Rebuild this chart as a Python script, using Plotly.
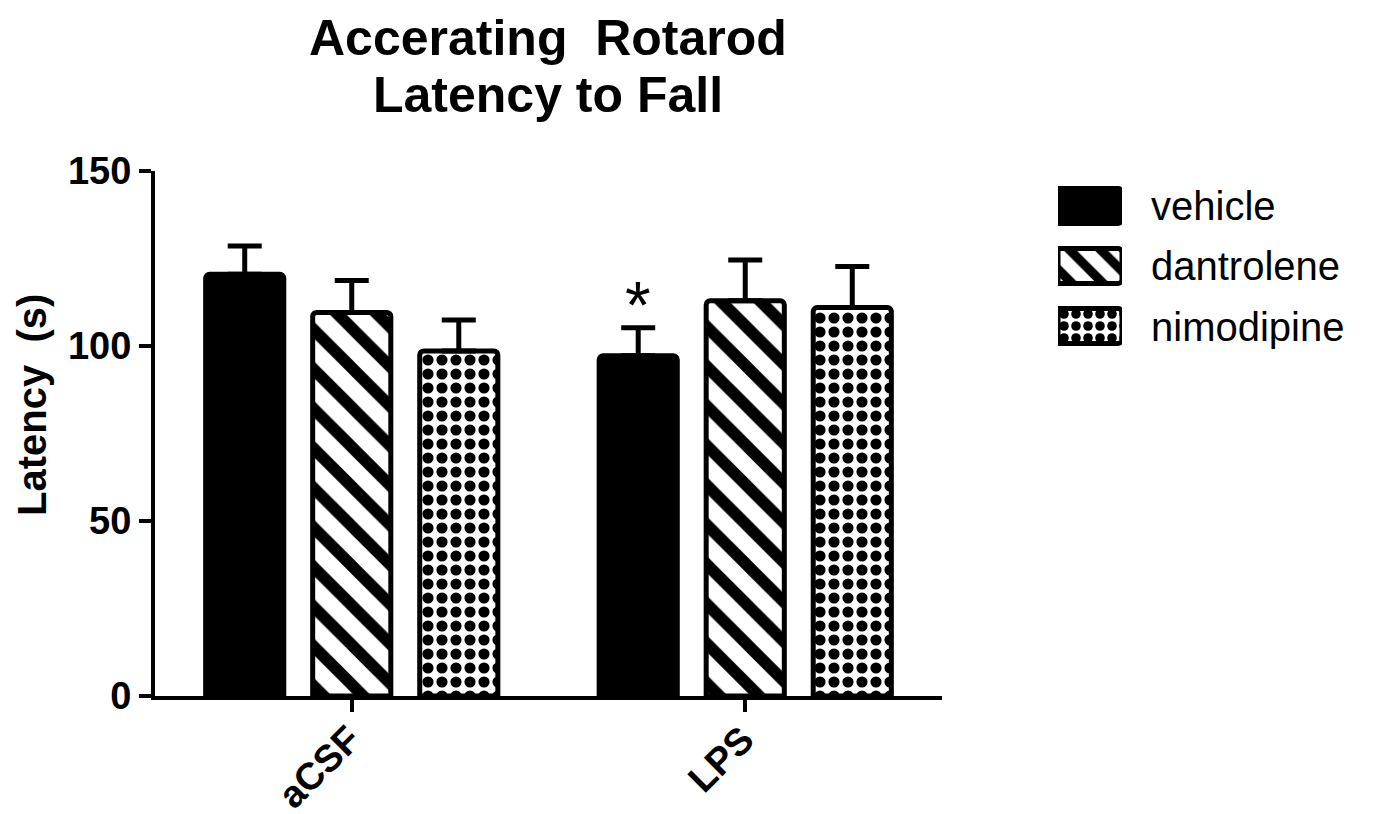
import plotly.graph_objects as go

# ---- data ----
categories = ["aCSF", "LPS"]
series_names = ["vehicle", "dantrolene", "nimodipine"]
vehicle_vals = [120.5, 97.2]
dantrolene_vals = [109.6, 112.9]
nimodipine_vals = [98.6, 111.0]
vehicle_sem = [8.1, 8.0]
dantrolene_sem = [9.1, 11.7]
nimodipine_sem = [8.8, 11.7]
y_ticks = [0, 50, 100, 150]
title_lines = ["Accerating\u00a0\u00a0Rotarod", "Latency to Fall"]
y_title = "Latency\u00a0\u00a0(s)"
star_label = "*"
star_value = 114.0  # centre of significance mark over LPS vehicle
legend_swatch_len = [1, 1, 1]

FONT = "Liberation Sans, Arial, sans-serif"
W, H = 1374, 814
OFF = 8  # page offset of the figure inside the window
ML, MR, MT, MB = 155 - OFF, 20 + OFF, 171 - OFF, 118 + OFF
PW = W - ML - MR
PH = H - MT - MB


def px_x(px):
    return (px - OFF - ML) / PW


def px_y(py):
    return 1 - (py - OFF - MT) / PH


# approximate bold glyph advance widths (em/1000) for label length
BOLD_W = {"a": 556, "C": 722, "S": 667, "F": 611, "L": 611, "P": 667}
TICK_FS = 38


def label_half_diag(text):
    length = sum(BOLD_W.get(c, 600) for c in text) / 1000 * TICK_FS
    return 0.5 * length * 0.7071


patterns = ["", "\\", "."]
pattern_sizes = [10, 28, 14]
legend_pattern_sizes = [10, 22, 12]
pattern_solid = [0.5, 0.42, 0.5]
values = [vehicle_vals, dantrolene_vals, nimodipine_vals]
sems = [vehicle_sem, dantrolene_sem, nimodipine_sem]

fig = go.Figure()
for name, vals, err, pat, ps, sol in zip(series_names, values, sems, patterns, pattern_sizes, pattern_solid):
    fig.add_trace(go.Bar(
        name=name, x=categories, y=vals,
        marker=dict(
            color="black" if pat == "" else "white",
            line=dict(color="black", width=5),
            cornerradius=4,
            pattern=dict(shape=pat, fgcolor="black", bgcolor="white", size=ps,
                         solidity=sol, fillmode="replace", fgopacity=1),
        ),
        error_y=dict(type="data", array=err, arrayminus=[0] * len(err), symmetric=False,
                     color="black", thickness=5, width=17),
        showlegend=False, xaxis="x", yaxis="y",
    ))

# custom legend swatches (drawn as bars on a hidden axis)
for i, (name, pat, ps, sol) in enumerate(zip(series_names, patterns, legend_pattern_sizes, pattern_solid)):
    fig.add_trace(go.Bar(
        x=[legend_swatch_len[i]], y=[i], orientation="h", width=0.58, offset=-0.29,
        marker=dict(
            color="black" if pat == "" else "white",
            line=dict(color="black", width=5),
            cornerradius=4,
            pattern=dict(shape=pat, fgcolor="black", bgcolor="white", size=ps,
                         solidity=sol, fillmode="replace", fgopacity=1),
        ),
        xaxis="x2", yaxis="y2", showlegend=False, cliponaxis=False, hoverinfo="skip",
    ))

annotations = []
leg_rows_px = [206, 266, 327]
for name, ypx in zip(series_names, leg_rows_px):
    annotations.append(dict(text=name, x=px_x(1149), y=px_y(ypx), xref="paper", yref="paper",
                            xanchor="left", yanchor="middle", showarrow=False,
                            font=dict(family=FONT, size=40, color="black")))

for line, ypx in zip(title_lines, [38, 95]):
    annotations.append(dict(text=line, x=px_x(548), y=px_y(ypx), xref="paper", yref="paper",
                            xanchor="center", yanchor="middle", showarrow=False,
                            font=dict(family=FONT, size=50, color="black", weight="bold")))

annotations.append(dict(text=y_title, x=px_x(32), y=px_y(405), xref="paper", yref="paper",
                        xanchor="center", yanchor="middle", textangle=-90, showarrow=False,
                        font=dict(family=FONT, size=40, color="black", weight="bold")))

annotations.append(dict(text=star_label, x=1 - 0.272, y=star_value, xref="x", yref="y",
                        xanchor="center", yanchor="middle", yshift=-8, showarrow=False,
                        font=dict(family=FONT, size=66, color="black")))

# rotated category labels (end of text at the tick, running down-left)
for cat in categories:
    d = label_half_diag(cat)
    annotations.append(dict(text=cat, x=cat, y=px_y(733), xref="x", yref="paper",
                            xanchor="center", yanchor="middle", xshift=2 - d, yshift=-d,
                            textangle=-45, showarrow=False,
                            font=dict(family=FONT, size=TICK_FS, color="black", weight="bold")))

fig.update_layout(
    width=W, height=H,
    margin=dict(l=ML, r=MR, t=MT, b=MB, autoexpand=False),
    paper_bgcolor="white", plot_bgcolor="white",
    barmode="group", bargap=0.184, bargroupgap=0.27,
    font=dict(family=FONT, color="black"),
    xaxis=dict(domain=[0, px_x(942)], range=[-0.5, 1.5], showline=True, linecolor="black",
               linewidth=4, ticks="outside", ticklen=12, tickwidth=4, tickcolor="black",
               showticklabels=False, showgrid=False, zeroline=False, automargin=False),
    yaxis=dict(range=[0, 150], tickvals=y_ticks, showline=True, linecolor="black",
               linewidth=4, ticks="outside", ticklen=12, tickwidth=4, tickcolor="black",
               showgrid=False, zeroline=False, automargin=False,
               tickfont=dict(family=FONT, size=38, color="black", weight="bold")),
    xaxis2=dict(domain=[px_x(1058), px_x(1122)], range=[0, 1], visible=False, anchor="y2",
                automargin=False),
    yaxis2=dict(domain=[px_y(356), px_y(176)], range=[2.5, -0.5], visible=False, anchor="x2",
                automargin=False),
    annotations=annotations,
)
fig.write_html("out.html")
